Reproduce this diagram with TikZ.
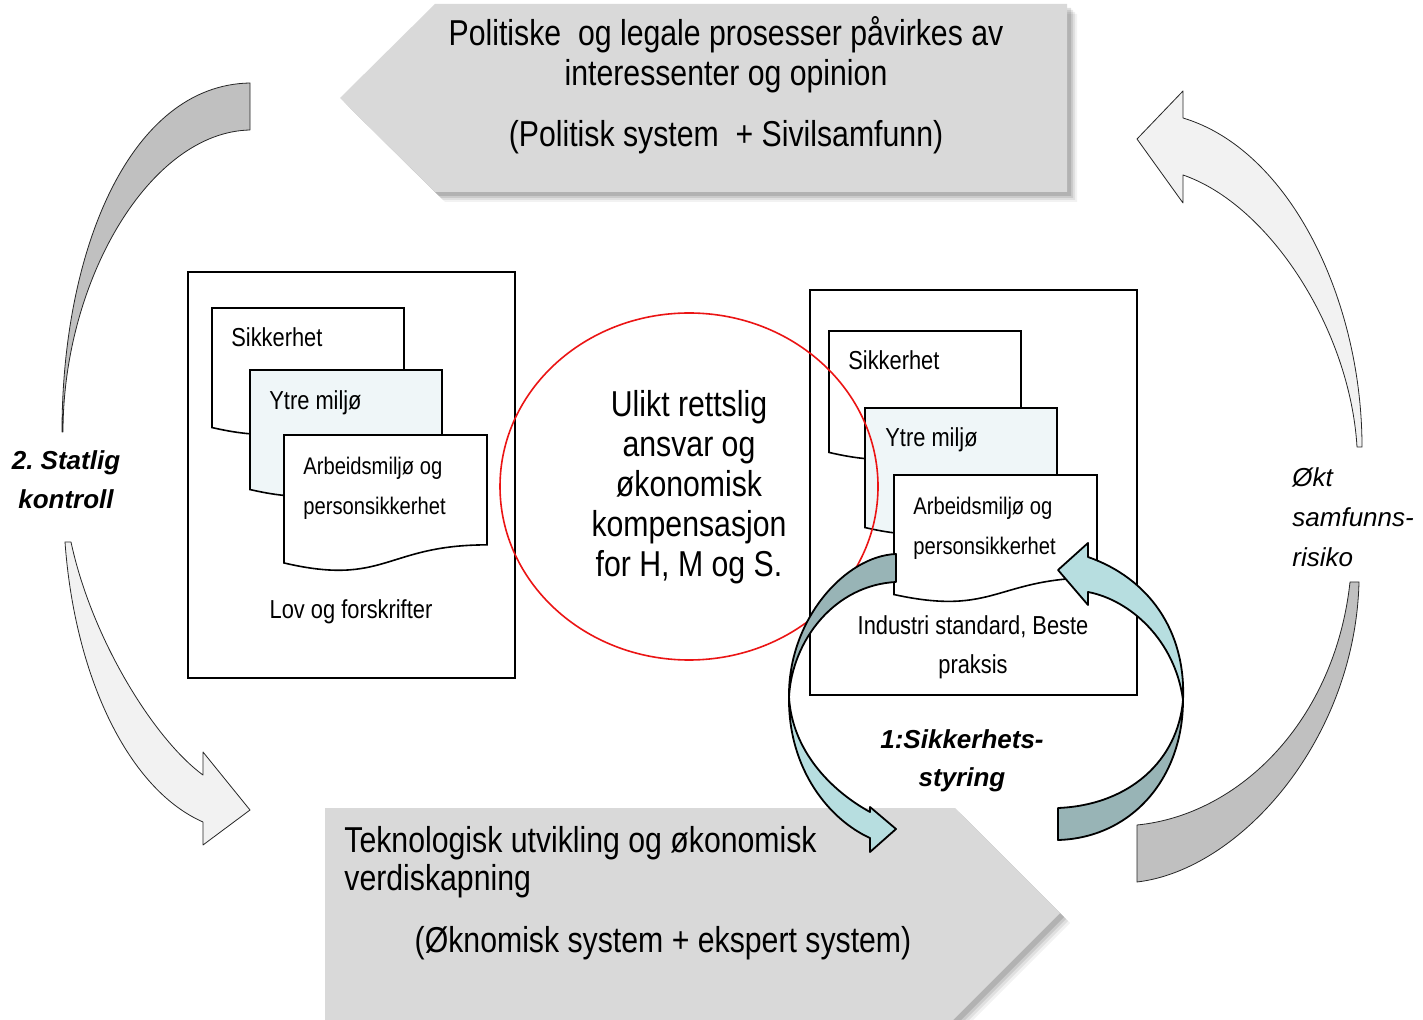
\documentclass[tikz,border=0pt]{standalone}
\usepackage{fontspec}
\setmainfont{Liberation Sans}[FakeStretch=0.84]
\newfontfamily\widefont{Liberation Sans}
\frenchspacing
\definecolor{pent}{RGB}{217,217,217}
\definecolor{arrdark}{RGB}{192,192,192}
\definecolor{arrlight}{RGB}{242,242,242}
\definecolor{tealL}{RGB}{183,222,224}
\definecolor{tealD}{RGB}{152,180,182}
\definecolor{docblue}{RGB}{239,246,248}
\definecolor{ringred}{RGB}{235,20,20}
\newcommand\drawdoc[5]{%
  \pgfmathsetmacro\dxa{#1+#3}\pgfmathsetmacro\dyr{#2+0.802*#4}%
  \pgfmathsetmacro\dxm{#1+0.5*#3}\pgfmathsetmacro\dyc{#2+1.1075*#4}%
  \pgfmathsetmacro\dyl{#2+0.934*#4}%
  \draw[docline, fill=#5] (#1,#2) -- (\dxa,#2) -- (\dxa,\dyr) .. controls (\dxm,\dyr) and (\dxm,\dyc) .. (#1,\dyl) -- cycle;}
\begin{document}
\begin{tikzpicture}[x=0.5pt,y=-0.5pt,
  txt/.style={inner sep=0pt, anchor=base},
  bigtxt/.style={txt, font=\fontsize{18}{20}\selectfont},
  doctxt/.style={txt, font=\fontsize{13}{15}\selectfont},
  smalltxt/.style={txt, font=\fontsize{12}{14}\selectfont},
  labtxt/.style={txt, font=\widefont\fontsize{13}{15}\selectfont\bfseries\itshape},
  risktxt/.style={txt, anchor=base west, font=\widefont\fontsize{13}{15}\selectfont\itshape},
  grayarrow/.style={draw=black!85, line width=0.4pt, line join=round},
  tealarrow/.style={draw=black, line width=0.9pt, line join=round},
  frame/.style={draw=black, line width=0.9pt, fill=white},
  docline/.style={draw=black, line width=0.8pt},
]
\useasboundingbox (0,0) rectangle (1423,1020);
\fill[white] (0,0) rectangle (1423,1020);
\clip (0,0) rectangle (1423,1020);

% ---------- pentagons with shadows ----------
\foreach \s/\o in {10/0.05,8/0.07,6/0.09,4/0.12}{
  \fill[black, opacity=\o, shift={(\s,\s)}] (340,98) -- (435,4) -- (1067,4) -- (1067,192) -- (435,192) -- cycle;
  \fill[black, opacity=\o, shift={(\s,\s)}] (325,808) -- (955,808) -- (1060,913) -- (948,1025) -- (325,1025) -- cycle;
}
\fill[pent] (340,98) -- (435,4) -- (1067,4) -- (1067,192) -- (435,192) -- cycle;
\fill[pent] (325,808) -- (955,808) -- (1060,913) -- (948,1025) -- (325,1025) -- cycle;

% ---------- outer curved arrows ----------
\filldraw[grayarrow, fill=arrdark] (250,83) -- (250,130) .. controls (150,132) and (63,280) .. (63,432) -- (62,432) .. controls (62,250) and (130,85) .. (250,83) -- cycle;
\filldraw[grayarrow, fill=arrlight] (65,542) .. controls (75,680) and (130,790) .. (203,822) -- (203,845) -- (250,810) -- (203,752) -- (203,775) .. controls (155,740) and (92,640) .. (71,542) -- cycle;
\filldraw[grayarrow, fill=arrlight] (1362,447) .. controls (1362,300) and (1290,150) .. (1183,118) -- (1183,91) -- (1137,139) -- (1183,203) -- (1183,175) .. controls (1270,205) and (1350,330) .. (1357,447) -- cycle;
\filldraw[grayarrow, fill=arrdark] (1350,582) -- (1359,582) .. controls (1355,740) and (1240,870) .. (1137,882) -- (1137,825) .. controls (1240,815) and (1335,720) .. (1350,582) -- cycle;

% ---------- left frame ----------
\draw[frame] (188,272) rectangle (515,678);
\drawdoc{212}{308}{192}{128}{white}
\drawdoc{250}{370}{192}{128}{docblue}
\drawdoc{284}{435}{203}{137}{white}

% ---------- right frame ----------
\draw[frame] (810,290) rectangle (1137,695);
\drawdoc{829}{331}{192}{130}{white}
\drawdoc{865}{408}{192}{128}{docblue}

% ---------- red ellipse ----------
\draw[ringred, line width=0.8pt] (689,486.5) ellipse [x radius=94.5pt, y radius=86.75pt];

\drawdoc{894}{475}{203}{128}{white}

% ---------- teal circular arrows ----------
\filldraw[tealarrow, fill=tealD] (896,554) .. controls (845,556) and (788,620) .. (789,697) .. controls (792,640) and (835,585) .. (896,582) -- cycle;
\filldraw[tealarrow, fill=tealL] (789,697) .. controls (788,770) and (830,820) .. (870,838) -- (870,852) -- (896,829) -- (870,807) -- (870,812) .. controls (830,790) and (792,750) .. (789,697) -- cycle;
\filldraw[tealarrow, fill=tealD] (1058,808) -- (1058,840) .. controls (1130,838) and (1183,780) .. (1183,700) .. controls (1178,760) and (1130,805) .. (1058,808) -- cycle;
\filldraw[tealarrow, fill=tealL] (1183,700) .. controls (1186,630) and (1148,578) .. (1088,557) -- (1088,543) -- (1058,570) -- (1088,605) -- (1088,592) .. controls (1130,600) and (1175,640) .. (1183,700) -- cycle;

% ---------- texts ----------
\node[bigtxt] (top1) at (726,46) {Politiske~ og legale prosesser påvirkes av};
\node[bigtxt] (top2) at (726,86) {interessenter og opinion};
\node[bigtxt] (top3) at (726,147) {(Politisk system~ + Sivilsamfunn)};

\node[bigtxt, anchor=base west] (bot1) at (344,852) {Teknologisk utvikling og økonomisk};
\node[bigtxt, anchor=base west] (bot2) at (344,890) {verdiskapning};
\node[bigtxt] (bot3) at (663,952) {(Øknomisk system + ekspert system)};

\node[bigtxt] (c1) at (689,417) {Ulikt rettslig};
\node[bigtxt] (c2) at (689,457) {ansvar og};
\node[bigtxt] (c3) at (689,497) {økonomisk};
\node[bigtxt] (c4) at (689,537) {kompensasjon};
\node[bigtxt] (c5) at (689,577) {for H, M og S.};

\node[doctxt, anchor=base west] (lsik) at (231,347) {Sikkerhet};
\node[doctxt, anchor=base west] (lytr) at (269,410) {Ytre miljø};
\node[smalltxt, anchor=base west] (larb1) at (303,475) {Arbeidsmiljø og};
\node[smalltxt, anchor=base west] (larb2) at (303,515) {personsikkerhet};
\node[doctxt] (llov) at (351,618) {Lov og forskrifter};

\node[doctxt, anchor=base west] (rsik) at (848,370) {Sikkerhet};
\node[doctxt, anchor=base west] (rytr) at (885,447) {Ytre miljø};
\node[smalltxt, anchor=base west] (rarb1) at (913,515) {Arbeidsmiljø og};
\node[smalltxt, anchor=base west] (rarb2) at (913,555) {personsikkerhet};
\node[doctxt] (rind1) at (973,635) {Industri standard, Beste};
\node[doctxt] (rind2) at (973,674) {praksis};

\node[labtxt] (stat1) at (66,470) {2. Statlig};
\node[labtxt] (stat2) at (66,509) {kontroll};
\node[labtxt] (sik1) at (962,748) {1:Sikkerhets-};
\node[labtxt] (sik2) at (962,786) {styring};
\node[risktxt] (ris1) at (1292,487) {Økt};
\node[risktxt] (ris2) at (1292,527) {samfunns-};
\node[risktxt] (ris3) at (1292,567) {risiko};
\end{tikzpicture}
\end{document}
